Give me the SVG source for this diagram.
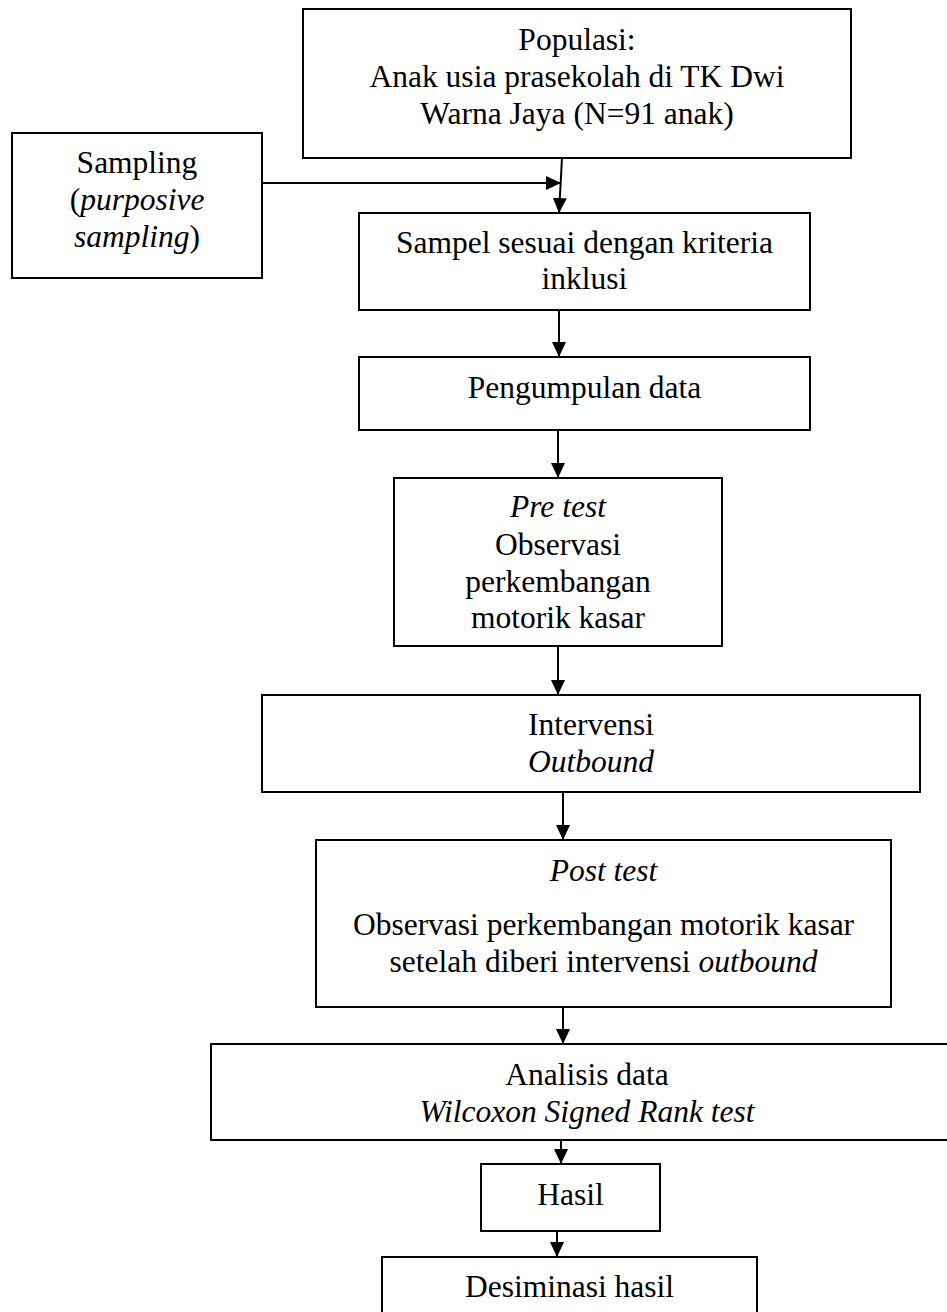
<svg xmlns="http://www.w3.org/2000/svg" width="947" height="1312" viewBox="0 0 947 1312">
<style>
.box{fill:#fff;stroke:#000;stroke-width:2}
.t{font-family:"Liberation Serif","Times New Roman",serif;font-size:31.5px;fill:#000;text-anchor:middle}
.i{font-style:italic}
.c{stroke:#000;stroke-width:2;fill:none}
</style>
<defs>
<marker id="ah" markerWidth="16" markerHeight="16" refX="15" refY="7" orient="auto" markerUnits="userSpaceOnUse">
<path d="M0,0 L15,7 L0,14 Z" fill="#000"/>
</marker>
</defs>
<rect width="947" height="1312" fill="#fff"/>
<g id="connectors">
<line class="c" x1="262" y1="183" x2="561" y2="183" marker-end="url(#ah)"/>
<line class="c" x1="562" y1="158" x2="559" y2="213" marker-end="url(#ah)"/>
<line class="c" x1="559" y1="310" x2="559" y2="357" marker-end="url(#ah)"/>
<line class="c" x1="558" y1="430" x2="558" y2="478" marker-end="url(#ah)"/>
<line class="c" x1="558" y1="646" x2="558" y2="695" marker-end="url(#ah)"/>
<line class="c" x1="563" y1="792" x2="563" y2="840" marker-end="url(#ah)"/>
<line class="c" x1="563" y1="1007" x2="563" y2="1044" marker-end="url(#ah)"/>
<line class="c" x1="561" y1="1140" x2="561" y2="1164" marker-end="url(#ah)"/>
<line class="c" x1="557" y1="1231" x2="557" y2="1257" marker-end="url(#ah)"/>
</g>
<g id="populasi">
<rect class="box" x="303" y="9" width="548" height="149"/>
<text class="t" x="577" y="50">Populasi:</text>
<text class="t" x="577" y="87">Anak usia prasekolah di TK Dwi</text>
<text class="t" x="577" y="124">Warna Jaya (N=91 anak)</text>
</g>
<g id="sampling">
<rect class="box" x="12" y="133" width="250" height="145"/>
<text class="t" x="137" y="173">Sampling</text>
<text class="t" x="137" y="210">(<tspan class="i">purposive</tspan></text>
<text class="t" x="137" y="247"><tspan class="i">sampling</tspan>)</text>
</g>
<g id="sampel">
<rect class="box" x="359" y="213" width="451" height="97"/>
<text class="t" x="584.5" y="253">Sampel sesuai dengan kriteria</text>
<text class="t" x="584.5" y="289">inklusi</text>
</g>
<g id="pengumpulan">
<rect class="box" x="359" y="357" width="451" height="73"/>
<text class="t" x="584.5" y="398">Pengumpulan data</text>
</g>
<g id="pretest">
<rect class="box" x="394" y="478" width="328" height="168"/>
<text class="t i" x="558" y="517">Pre test</text>
<text class="t" x="558" y="555">Observasi</text>
<text class="t" x="558" y="592">perkembangan</text>
<text class="t" x="558" y="628">motorik kasar</text>
</g>
<g id="intervensi">
<rect class="box" x="262" y="695" width="658" height="97"/>
<text class="t" x="591" y="735">Intervensi</text>
<text class="t i" x="591" y="772">Outbound</text>
</g>
<g id="posttest">
<rect class="box" x="316" y="840" width="575" height="167"/>
<text class="t i" x="603.5" y="881">Post test</text>
<text class="t" x="603.5" y="935">Observasi perkembangan motorik kasar</text>
<text class="t" x="603.5" y="972">setelah diberi intervensi <tspan class="i">outbound</tspan></text>
</g>
<g id="analisis">
<rect class="box" x="211" y="1044" width="752" height="96"/>
<text class="t" x="587" y="1085">Analisis data</text>
<text class="t i" x="587" y="1122">Wilcoxon Signed Rank test</text>
</g>
<g id="hasil">
<rect class="box" x="481" y="1164" width="179" height="67"/>
<text class="t" x="570.5" y="1205">Hasil</text>
</g>
<g id="desiminasi">
<rect class="box" x="382" y="1257" width="375" height="80"/>
<text class="t" x="569.5" y="1297">Desiminasi hasil</text>
</g>
</svg>
